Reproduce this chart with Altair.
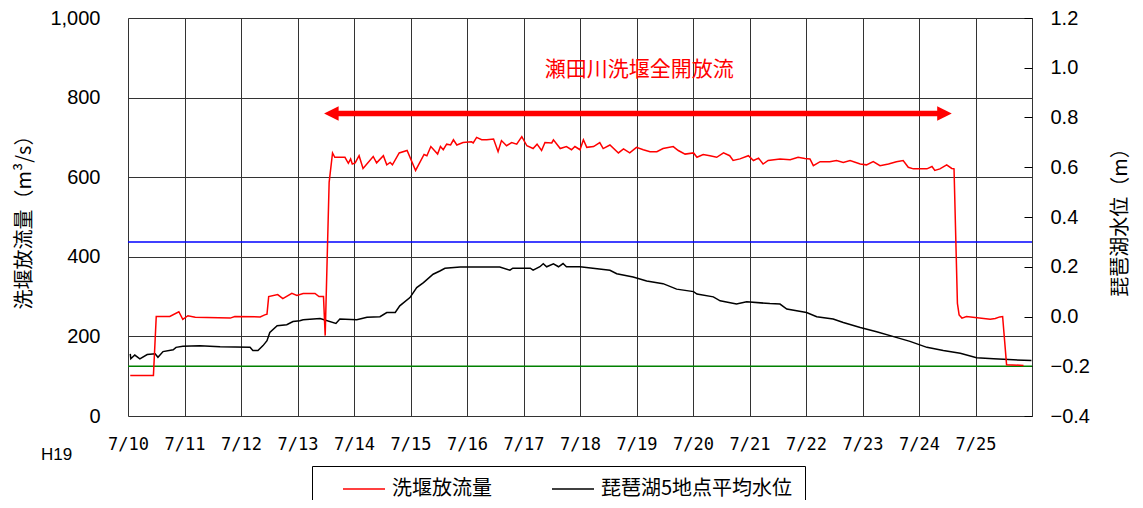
import json
import altair as alt
import pandas as pd

# ---------------- data ----------------
# days after 7/10 00:00 (H19 = 2007) and 洗堰放流量 (m3/s)
flow_day = [0.04, 0.45, 0.50, 0.74, 0.90, 0.97, 1.06, 1.19, 1.81, 1.89, 2.34, 2.42, 2.46, 2.49,
            2.65, 2.74, 2.90, 2.99, 3.10, 3.31, 3.38, 3.46, 3.49, 3.56, 3.62, 3.66, 3.84, 3.90,
            3.94, 3.97, 4.02, 4.09, 4.16, 4.34, 4.40, 4.52, 4.58, 4.64, 4.68, 4.80, 4.94, 5.09,
            5.24, 5.29, 5.36, 5.48, 5.53, 5.58, 5.64, 5.71, 5.76, 5.82, 5.93, 6.08, 6.11, 6.17,
            6.26, 6.35, 6.47, 6.55, 6.61, 6.70, 6.79, 6.88, 6.97, 7.06, 7.17, 7.24, 7.32, 7.38,
            7.50, 7.53, 7.65, 7.76, 7.85, 7.91, 8.00, 8.06, 8.12, 8.24, 8.35, 8.41, 8.53, 8.68,
            8.77, 8.88, 9.00, 9.12, 9.24, 9.36, 9.47, 9.65, 9.74, 9.86, 10.01, 10.07, 10.18, 10.30,
            10.42, 10.54, 10.65, 10.71, 10.83, 10.98, 11.07, 11.16, 11.24, 11.33, 11.54, 11.72,
            11.86, 11.98, 12.07, 12.13, 12.25, 12.42, 12.54, 12.66, 12.78, 12.96, 13.07, 13.19,
            13.31, 13.46, 13.60, 13.72, 13.81, 13.90, 14.14, 14.23, 14.28, 14.37, 14.49, 14.58,
            14.62, 14.68, 14.71, 14.76, 14.84, 15.26, 15.35, 15.43, 15.48, 15.55, 15.85]
flow_q = [102, 102, 250, 250, 262, 243, 252, 248, 246, 250, 249, 254, 256, 300,
          305, 295, 308, 303, 308, 308, 300, 300, 202, 587, 661, 650, 650, 635,
          646, 633, 636, 654, 622, 652, 636, 654, 631, 637, 631, 661, 667, 617,
          657, 654, 677, 658, 677, 669, 683, 681, 694, 681, 687, 689, 686, 700,
          694, 694, 696, 664, 692, 679, 687, 683, 702, 679, 672, 683, 667, 687,
          686, 694, 672, 677, 669, 677, 669, 694, 675, 677, 687, 672, 681, 661,
          671, 661, 675, 669, 664, 664, 672, 677, 667, 658, 661, 650, 657, 654,
          650, 661, 654, 642, 646, 654, 642, 648, 633, 642, 646, 644,
          650, 647, 646, 629, 639, 639, 642, 637, 642, 633, 631, 639,
          629, 633, 639, 642, 625, 621, 621, 627, 617, 621, 631, 622,
          621, 283, 254, 246, 250, 243, 245, 249, 250, 129, 127]

# days after 7/10 00:00 and 琵琶湖5地点平均水位 (m)
level_day = [0.04, 0.05, 0.12, 0.21, 0.34, 0.48, 0.53, 0.62, 0.80, 0.85, 0.97, 1.27, 1.63, 2.16,
             2.21, 2.30, 2.39, 2.46, 2.51, 2.64, 2.81, 2.92, 3.04, 3.10, 3.40, 3.68, 3.75, 4.05,
             4.23, 4.46, 4.58, 4.73, 4.81, 4.99, 5.11, 5.23, 5.40, 5.52, 5.61, 5.88, 6.58, 6.76,
             6.81, 7.12, 7.17, 7.29, 7.35, 7.41, 7.53, 7.62, 7.70, 7.76, 8.00, 8.53, 8.65, 8.94,
             9.18, 9.47, 9.71, 10.01, 10.07, 10.36, 10.48, 10.77, 10.95, 11.36, 11.54, 11.66,
             12.01, 12.19, 12.48, 12.66, 12.96, 13.25, 13.55, 13.84, 14.14, 14.43, 14.73, 15.02,
             15.32, 15.67, 15.99]
level_m = [-0.150, -0.170, -0.155, -0.170, -0.153, -0.150, -0.164, -0.141, -0.134, -0.124, -0.120,
           -0.118, -0.122, -0.124, -0.137, -0.137, -0.117, -0.097, -0.064, -0.037, -0.033, -0.020,
           -0.017, -0.013, -0.008, -0.028, -0.010, -0.013, -0.003, -0.001, 0.016, 0.016, 0.043,
           0.076, 0.116, 0.136, 0.170, 0.183, 0.194, 0.199, 0.199, 0.186, 0.194, 0.194, 0.186,
           0.200, 0.212, 0.200, 0.212, 0.200, 0.213, 0.200, 0.200, 0.186, 0.172, 0.159, 0.143,
           0.132, 0.110, 0.100, 0.090, 0.079, 0.063, 0.050, 0.059, 0.052, 0.050, 0.030, 0.016,
           -0.001, -0.010, -0.024, -0.044, -0.061, -0.081, -0.100, -0.124, -0.137, -0.148,
           -0.166, -0.170, -0.174, -0.177]

series_names = ["洗堰放流量", "琵琶湖5地点平均水位"]
series_colors = ["#ff0000", "#000000"]

ref_levels = [0.30, -0.20]          # reference water levels (m)
ref_colors = ["#0000ff", "#008000"]

day_labels = ["7/10", "7/11", "7/12", "7/13", "7/14", "7/15", "7/16", "7/17",
              "7/18", "7/19", "7/20", "7/21", "7/22", "7/23", "7/24", "7/25"]
day_ticks = list(range(17))
flow_ticks = [0, 200, 400, 600, 800, 1000]
level_ticks = [-0.4, -0.2, 0.0, 0.2, 0.4, 0.6, 0.8, 1.0, 1.2]

arrow_start, arrow_end, arrow_q = 3.47, 14.58, 760
note_text = "瀬田川洗堰全開放流"
note_day, note_q = 9.05, 870

# ---------------- chart ----------------
JP = "Noto Sans CJK JP"
NUM = "Liberation Sans"

flow_df = pd.DataFrame({"day": flow_day, "q": flow_q, "series": series_names[0]})
level_df = pd.DataFrame({"day": level_day, "m": level_m, "series": series_names[1]})

label_expr = "(" + json.dumps(day_labels) + ")[datum.value] || ''"
x_axis = alt.Axis(values=day_ticks, labelExpr=label_expr, grid=True, gridColor="#333333",
                  gridWidth=1, ticks=False, tickSize=0, domain=False, labelFlush=False,
                  labelOverlap=False, labelFont="DejaVu Sans Mono", labelFontSize=17,
                  labelColor="black", labelPadding=20, title="H19", titleX=-72, titleY=38,
                  titleFont=NUM, titleFontSize=17, titleFontWeight="normal",
                  titleAlign="center", titleBaseline="middle", titleColor="black")
x_scale = alt.Scale(domain=[0, 16], nice=False, zero=False)


def X(field="day"):
    return alt.X(f"{field}:Q", scale=x_scale, axis=x_axis)


left_scale = alt.Scale(domain=[0, 1000], nice=False)
left_axis = alt.Axis(orient="left", values=flow_ticks, labelExpr="format(datum.value, ',d')",
                     grid=True, gridColor="#333333",
                     gridWidth=1, ticks=False, tickSize=0, domain=False, labelFont=NUM,
                     labelFontSize=20, labelPadding=28, labelColor="black",
                     title="洗堰放流量（m³/s）", titleFont=JP, titleFontSize=20,
                     titleFontWeight="normal", titleAngle=270, titleX=-104, titleY=199,
                     titleAlign="center", titleBaseline="middle", titleColor="black")
right_scale = alt.Scale(domain=[-0.4, 1.2], nice=False, zero=False)
right_axis = alt.Axis(orient="right", values=level_ticks, format=".1f", grid=False, ticks=True,
                      tickSize=8, tickColor="black", tickWidth=1, offset=-8, domain=False,
                      labelPadding=18, labelFont=NUM, labelFontSize=20, labelColor="black",
                      title="琵琶湖水位（m）", titleFont=JP, titleFontSize=20,
                      titleFontWeight="normal", titleAngle=270, titleX=96, titleY=199,
                      titleAlign="center", titleBaseline="middle", titleColor="black")

color = alt.Color(
    "series:N",
    scale=alt.Scale(domain=series_names, range=series_colors),
    legend=alt.Legend(orient="none", legendX=184, legendY=448, direction="horizontal",
                      title=None, strokeColor="black", padding=12,
                      symbolType="M -1 0 M 0.8 0 L 5 0", symbolSize=400, symbolStrokeWidth=1.6,
                      labelFont=JP, labelFontSize=20, labelColor="black", labelOffset=46,
                      columnPadding=38, labelLimit=400),
)

# right-axis layer: lake level + reference levels
level_line = alt.Chart(level_df).mark_line(strokeWidth=1.5).encode(
    x=X(), y=alt.Y("m:Q", scale=right_scale, axis=right_axis), color=color)
ref_rules = [
    alt.Chart(pd.DataFrame({"m": [lv]})).mark_rule(color=c, strokeWidth=1.5).encode(
        y=alt.Y("m:Q", scale=right_scale, axis=right_axis))
    for lv, c in zip(ref_levels, ref_colors)
]
right_layer = alt.layer(*ref_rules, level_line)

# left-axis layer: outflow + annotation
flow_line = alt.Chart(flow_df).mark_line(strokeWidth=1.5).encode(
    x=X(), y=alt.Y("q:Q", scale=left_scale, axis=left_axis), color=color)

arrow_df = pd.DataFrame({"day": [arrow_start], "day2": [arrow_end], "q": [arrow_q]})
arrow_rule = alt.Chart(arrow_df).mark_rule(color="#ff0000", strokeWidth=5.5, xOffset=10,
                                           x2Offset=-10).encode(
    x=X(), x2="day2:Q", y=alt.Y("q:Q", scale=left_scale, axis=left_axis))
head_l = alt.Chart(pd.DataFrame({"day": [arrow_start], "q": [arrow_q]})).mark_point(
    shape="M 1 -1 L -1 0 L 1 1 Z", size=213, filled=True, color="#ff0000", opacity=1,
    xOffset=7.3).encode(x=X(), y=alt.Y("q:Q", scale=left_scale, axis=left_axis))
head_r = alt.Chart(pd.DataFrame({"day": [arrow_end], "q": [arrow_q]})).mark_point(
    shape="M -1 -1 L 1 0 L -1 1 Z", size=213, filled=True, color="#ff0000", opacity=1,
    xOffset=-7.3).encode(x=X(), y=alt.Y("q:Q", scale=left_scale, axis=left_axis))
note = alt.Chart(pd.DataFrame({"day": [note_day], "q": [note_q], "t": [note_text]})).mark_text(
    font=JP, fontSize=21, color="#ff0000", align="center", baseline="middle").encode(
    x=X(), y=alt.Y("q:Q", scale=left_scale, axis=left_axis), text="t:N")

left_layer = alt.layer(flow_line, arrow_rule, head_l, head_r, note)

chart = (
    alt.layer(right_layer, left_layer)
    .resolve_scale(y="independent")
    .properties(width=904, height=398,
                autosize=alt.AutoSizeParams(type="none"),
                padding={"left": 120, "top": 10, "right": 103, "bottom": 84})
    .configure_view(stroke="black", strokeWidth=1.5)
    .configure(background="white")
)

chart.save("out.html", embed_options={"renderer": "svg", "actions": False})
